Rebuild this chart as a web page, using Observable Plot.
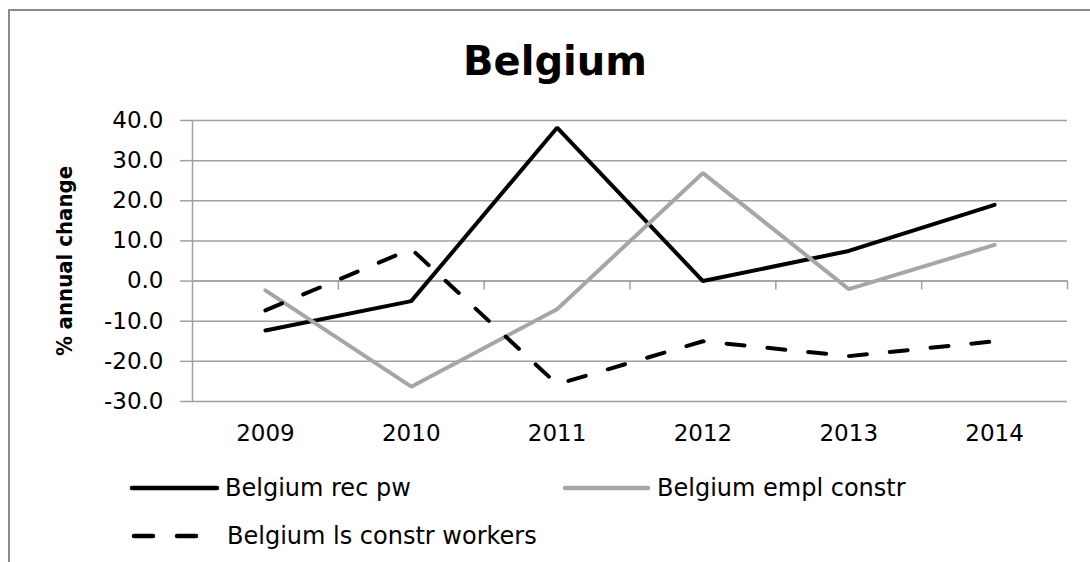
<!DOCTYPE html>
<html>
<head>
<meta charset="utf-8">
<script src="https://cdn.jsdelivr.net/npm/d3@7"></script>
<script src="https://cdn.jsdelivr.net/npm/@observablehq/plot@0.6"></script>
<style>
  html, body { margin: 0; padding: 0; background: #fff; }
  #wrap { position: relative; width: 1090px; height: 562px; overflow: hidden; background: #fff; }
  #border { position: absolute; left: 8px; top: 9px; width: 1200px; height: 700px;
            border-top: 2px solid #8a8a8a; border-left: 2px solid #8a8a8a; }
  #chart { position: absolute; left: 0; top: 0; }
  #overlay { position: absolute; left: 0; top: 0; pointer-events: none; }
</style>
</head>
<body>
<div id="wrap">
  <div id="border"></div>
  <div id="chart"></div>
  <svg id="overlay" width="1090" height="562"></svg>
</div>
<script>
const titleText = "Belgium";
const yLabel = "% annual change";
const years = [2009, 2010, 2011, 2012, 2013, 2014];
const yTicks = [-30, -20, -10, 0, 10, 20, 30, 40];
const seriesNames = ["Belgium rec pw", "Belgium empl constr", "Belgium ls constr workers"];
const recPw = [-12.3, -5.0, 38.2, 0.0, 7.5, 19.0];
const emplConstr = [-2.3, -26.3, -7.0, 26.9, -2.0, 9.0];
const lsConstrWorkers = [-7.3, 8.0, -25.7, -15.0, -18.7, -15.0];

const seriesValues = [recPw, emplConstr, lsConstrWorkers];
const seriesStyle = [
  {stroke: "#000000", dash: null},
  {stroke: "#a6a6a6", dash: null},
  {stroke: "#000000", dash: "18,23"}
];
const data = seriesNames.map((name, s) => years.map((yr, i) => ({series: name, year: yr, value: seriesValues[s][i]})));
// category boundaries for the Excel-style tick marks
const boundaries = years.map(y => y + 0.5);

const gridColor = "#a0a0a0";

const chart = Plot.plot({
  width: 1090,
  height: 460,
  marginLeft: 192,
  marginRight: 23,
  marginTop: 120,
  marginBottom: 59,
  style: {fontFamily: "DejaVu Sans", fontSize: "23px", color: "#000", background: "transparent"},
  x: {domain: [years[0] - 0.5, years[years.length - 1] + 0.5]},
  y: {domain: [yTicks[0], yTicks[yTicks.length - 1]]},
  marks: [
    Plot.gridY(yTicks, {stroke: gridColor, strokeOpacity: 1, strokeWidth: 1.5}),
    Plot.axisY(yTicks, {tickSize: 12, tickPadding: 17, stroke: gridColor, strokeWidth: 1.5,
      tickFormat: d => d.toFixed(1), label: null, fill: "#000"}),
    Plot.frame({anchor: "left", stroke: gridColor, strokeWidth: 1.5}),
    Plot.ruleY([0], {stroke: gridColor, strokeWidth: 1.5}),
    Plot.ruleX(boundaries, {y1: 0, y2: -2.2, stroke: gridColor, strokeWidth: 1.5}),
    Plot.axisX(years, {tickSize: 0, tickPadding: 23, tickFormat: d => String(d), label: null, fill: "#000"}),
    ...data.map((rows, s) => Plot.line(rows, {
      x: "year", y: "value",
      stroke: seriesStyle[s].stroke, strokeWidth: 4,
      strokeDasharray: seriesStyle[s].dash || undefined,
      strokeLinecap: "round", strokeLinejoin: "miter"
    })),
    Plot.text([yLabel], {frameAnchor: "left", text: d => d, rotate: -90, dx: -128,
      textAnchor: "middle", lineAnchor: "middle",
      fontWeight: "bold", fontSize: 22, fontFamily: "'DejaVu Sans Condensed', 'Liberation Sans Narrow', 'DejaVu Sans'", fill: "#000"})
  ]
});
document.getElementById("chart").appendChild(chart);

// title and legend
const ov = d3.select("#overlay");
ov.append("text")
  .attr("x", 555).attr("y", 75)
  .attr("text-anchor", "middle")
  .attr("font-family", "DejaVu Sans").attr("font-weight", "bold").attr("font-size", 40)
  .attr("fill", "#000")
  .text(titleText);

const legendItems = [
  {x1: 132, x2: 217, tx: 225, y: 488},
  {x1: 565, x2: 648, tx: 657, y: 488},
  {x1: 134, x2: 198, tx: 227, y: 536}
];
seriesNames.forEach((name, s) => {
  const L = legendItems[s];
  ov.append("line")
    .attr("x1", L.x1).attr("x2", L.x2).attr("y1", L.y).attr("y2", L.y)
    .attr("stroke", seriesStyle[s].stroke).attr("stroke-width", 4.5)
    .attr("stroke-linecap", "round")
    .attr("stroke-dasharray", seriesStyle[s].dash ? "19,24" : null);
  ov.append("text")
    .attr("x", L.tx).attr("y", L.y + 8)
    .attr("font-family", "DejaVu Sans").attr("font-size", 24)
    .attr("fill", "#000")
    .text(name);
});
</script>
</body>
</html>
